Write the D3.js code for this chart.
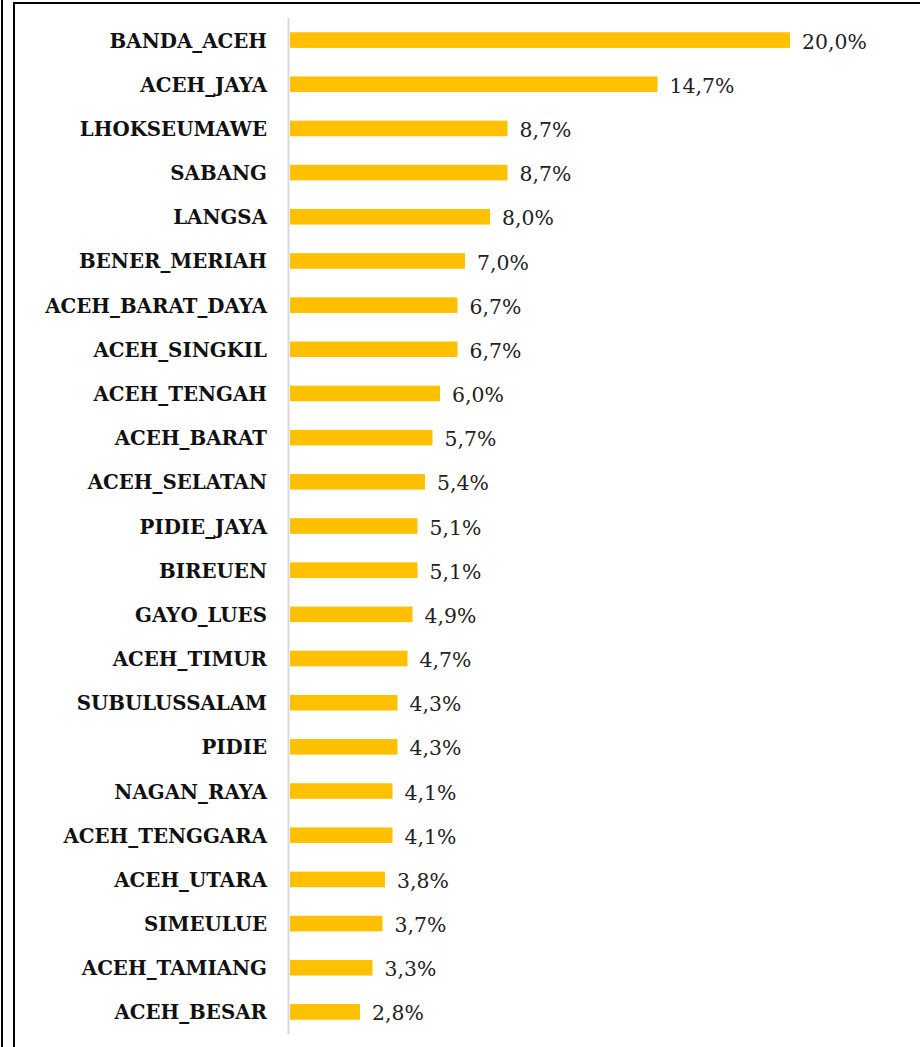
<!DOCTYPE html>
<html>
<head>
<meta charset="utf-8">
<script src="https://cdn.jsdelivr.net/npm/d3@7"></script>
<style>
  body { margin: 0; background: #fff; }
  .cat-label { font-family: "DejaVu Serif", serif; font-weight: bold; font-size: 19.8px; fill: #111; }
  .val-label { font-family: "DejaVu Serif", serif; font-size: 20.4px; fill: #222; }
</style>
</head>
<body>
<div id="bar-chart"></div>
<script>
let regions = ["BANDA_ACEH", "ACEH_JAYA", "LHOKSEUMAWE", "SABANG", "LANGSA", "BENER_MERIAH",
    "ACEH_BARAT_DAYA", "ACEH_SINGKIL", "ACEH_TENGAH", "ACEH_BARAT", "ACEH_SELATAN", "PIDIE_JAYA",
    "BIREUEN", "GAYO_LUES", "ACEH_TIMUR", "SUBULUSSALAM", "PIDIE", "NAGAN_RAYA", "ACEH_TENGGARA",
    "ACEH_UTARA", "SIMEULUE", "ACEH_TAMIANG", "ACEH_BESAR"];
let shares = [20.0, 14.7, 8.7, 8.7, 8.0, 7.0, 6.7, 6.7, 6.0, 5.7, 5.4, 5.1, 5.1, 4.9, 4.7, 4.3, 4.3,
    4.1, 4.1, 3.8, 3.7, 3.3, 2.8];

let svgWidth = 920, svgHeight = 1047;
let margin = {top: 18, bottom: 13, left: 290, right: 130};

let svg = d3.select("#bar-chart").append("svg")
    .attr("width", svgWidth)
    .attr("height", svgHeight);

// frame lines
svg.append("line").attr("x1", 2).attr("x2", 2).attr("y1", 0).attr("y2", svgHeight)
    .attr("stroke", "#000").attr("stroke-width", 2);
svg.append("line").attr("x1", 14).attr("x2", 14).attr("y1", 2).attr("y2", svgHeight)
    .attr("stroke", "#000").attr("stroke-width", 2);
svg.append("line").attr("x1", 13).attr("x2", svgWidth).attr("y1", 3).attr("y2", 3)
    .attr("stroke", "#000").attr("stroke-width", 2);

let y = d3.scaleBand()
    .domain(regions)
    .range([margin.top, svgHeight - margin.bottom])
    .paddingInner(0.647)
    .paddingOuter(0.3235);

let x = d3.scaleLinear()
    .domain([0, 20])
    .range([margin.left, 790]);

let fmt = v => d3.format(".1f")(v).replace(".", ",") + "%";

svg.selectAll(".bar")
    .data(regions)
    .enter()
    .append("rect")
    .attr("class", "bar")
    .attr("x", x(0))
    .attr("y", d => y(d))
    .attr("width", (d, i) => x(shares[i]) - x(0))
    .attr("height", y.bandwidth())
    .attr("fill", "#ffc000");

// category axis
svg.append("line")
    .attr("x1", x(0) - 1.5).attr("x2", x(0) - 1.5)
    .attr("y1", margin.top).attr("y2", svgHeight - margin.bottom)
    .attr("stroke", "#d9d9d9").attr("stroke-width", 2);

svg.selectAll(".cat-label")
    .data(regions)
    .enter()
    .append("text")
    .attr("class", "cat-label")
    .attr("x", 267)
    .attr("y", d => y(d) + y.bandwidth() / 2)
    .attr("dy", "0.38em")
    .attr("text-anchor", "end")
    .text(d => d);

svg.selectAll(".val-label")
    .data(regions)
    .enter()
    .append("text")
    .attr("class", "val-label")
    .attr("x", (d, i) => x(shares[i]) + 12)
    .attr("y", d => y(d) + y.bandwidth() / 2)
    .attr("dy", "0.42em")
    .text((d, i) => fmt(shares[i]));
</script>
</body>
</html>
